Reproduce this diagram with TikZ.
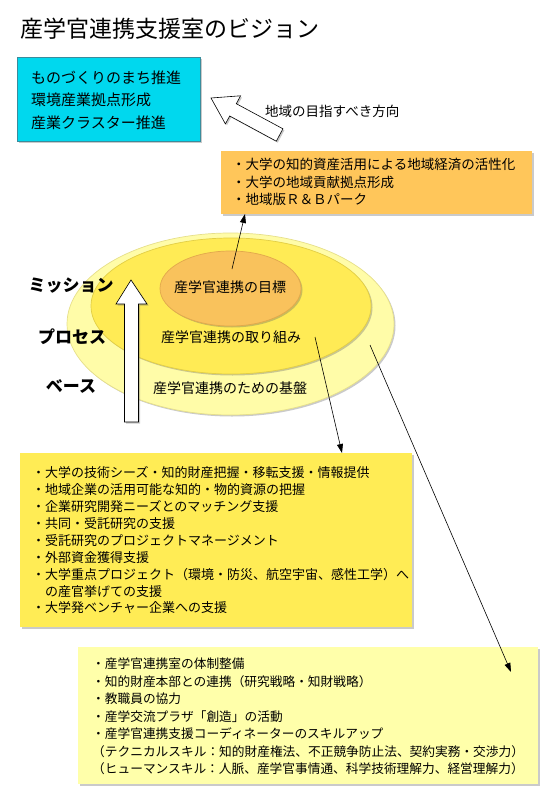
\documentclass[tikz,border=0pt]{standalone}
\usepackage{fontspec}
\setmainfont{Noto Sans CJK JP}
\usetikzlibrary{shapes.geometric,shadows,arrows.meta}
\definecolor{cyanfill}{HTML}{00D8EE}
\definecolor{cyanline}{HTML}{3A8C9C}
\definecolor{orangefill}{HTML}{FFC65A}
\definecolor{yellowfill}{HTML}{FFEC55}
\definecolor{paleyellow}{HTML}{FFFFAA}
\definecolor{outerfill}{HTML}{FFFCA8}
\definecolor{outerline}{HTML}{E6DF8A}
\definecolor{midfill}{HTML}{FFEB55}
\definecolor{midline}{HTML}{E2CE45}
\definecolor{innerfill}{HTML}{F9C25C}
\definecolor{innerline}{HTML}{E2A84C}
\begin{document}
\begin{tikzpicture}[x=1pt,y=-1pt,
  shadowed/.style={drop shadow={shadow xshift=1.5pt,shadow yshift=-1.5pt,opacity=0.35,fill=black!60}},
  box/.style={shadowed,anchor=north west,inner sep=0pt,draw=none},
  boxtext/.style={anchor=north west,inner sep=0pt,align=left},
  ell/.style={ellipse,inner sep=0pt,line width=0.7pt,shadowed},
  elltext/.style={inner sep=0pt,font=\fontsize{14}{14}\selectfont},
  layer/.style={inner sep=0pt,font=\fontsize{17}{17}\bfseries},
  conn/.style={-{Triangle[length=9pt,width=6pt]},line width=0.6pt},
  hollow/.style={fill=white,draw=black,line width=0.6pt,shadowed}]
\useasboundingbox (0,0) rectangle (550,805);

% title
\node[anchor=west,inner sep=0pt,font=\fontsize{23}{23}\selectfont] (title) at (20,29) {産学官連携支援室のビジョン};

% cyan box
\node[box,fill=cyanfill,draw=cyanline,line width=0.6pt,minimum width=183pt,minimum height=84pt] (cyanbox) at (17,57) {};
\node[boxtext,font=\fontsize{15}{22.5}\selectfont] (cyantext) at (31,70.5) {ものづくりのまち推進\\環境産業拠点形成\\産業クラスター推進};

% hollow diagonal arrow
\draw[hollow] (211,98) -- (240.6,95.8) -- (236.3,103.7) -- (282.9,128.8) -- (276.3,141.2) -- (229.7,116) -- (225.4,123.9) -- cycle;
\node[anchor=west,inner sep=0pt,font=\fontsize{13.5}{13.5}\selectfont] (direction) at (265,111) {地域の目指すべき方向};

% orange box
\node[box,fill=orangefill,minimum width=311pt,minimum height=63pt] (orangebox) at (221,151) {};
\node[boxtext,font=\fontsize{13.5}{17.5}\selectfont] (orangetext) at (232,158.3) {・大学の知的資産活用による地域経済の活性化\\・大学の地域貢献拠点形成\\・地域版Ｒ＆Ｂパーク};

% ellipses
\node[ell,fill=outerfill,draw=outerline,minimum width=327pt,minimum height=182pt] (outer) at (230.5,324) {};
\node[ell,fill=midfill,draw=midline,minimum width=280pt,minimum height=136pt] (middle) at (231,306) {};
\node[ell,fill=innerfill,draw=innerline,minimum width=141pt,minimum height=75pt] (inner) at (230.5,288.5) {};
\node[elltext] (goal) at (230,287) {産学官連携の目標};
\node[elltext] (work) at (231,337) {産学官連携の取り組み};
\node[elltext] (base) at (230,388) {産学官連携のための基盤};

% layer labels
\node[layer] (mission) at (71,286) {ミッション};
\node[layer] (process) at (72,337) {プロセス};
\node[layer] (baselabel) at (71,387) {ベース};

% vertical hollow arrow
\draw[hollow] (131,280) -- (147,304) -- (138.5,304) -- (138.5,422) -- (124.5,422) -- (124.5,304) -- (116,304) -- cycle;

% yellow box
\node[box,fill=yellowfill,minimum width=392pt,minimum height=174pt] (yellowbox) at (20,453) {};
\node[boxtext,font=\fontsize{13}{16.9}\selectfont] (yellowtext) at (32,466.5) {・大学の技術シーズ・知的財産把握・移転支援・情報提供\\・地域企業の活用可能な知的・物的資源の把握\\・企業研究開発ニーズとのマッチング支援\\・共同・受託研究の支援\\・受託研究のプロジェクトマネージメント\\・外部資金獲得支援\\・大学重点プロジェクト（環境・防災、航空宇宙、感性工学）へ\\\phantom{・}の産官挙げての支援\\・大学発ベンチャー企業への支援};

% pale yellow box
\node[box,fill=paleyellow,minimum width=460pt,minimum height=137pt] (palebox) at (78,647) {};
\node[boxtext,font=\fontsize{12.7}{17.5}\selectfont] (paletext) at (92,657.6) {・産学官連携室の体制整備\\・知的財産本部との連携（研究戦略・知財戦略）\\・教職員の協力\\・産学交流プラザ「創造」の活動\\・産学官連携支援コーディネーターのスキルアップ\\（テクニカルスキル：知的財産権法、不正競争防止法、契約実務・交渉力）\\（ヒューマンスキル：人脈、産学官事情通、科学技術理解力、経営理解力）};

% connectors
\coordinate (a1s) at (232,269);
\coordinate (a1e) at (245,214);
\coordinate (a2s) at (315,337);
\coordinate (a2e) at (342,453);
\coordinate (a3s) at (370,345);
\coordinate (a3e) at (511,672);
\draw[conn] (a1s) -- (a1e);
\draw[conn] (a2s) -- (a2e);
\draw[conn] (a3s) -- (a3e);
\end{tikzpicture}
\end{document}
